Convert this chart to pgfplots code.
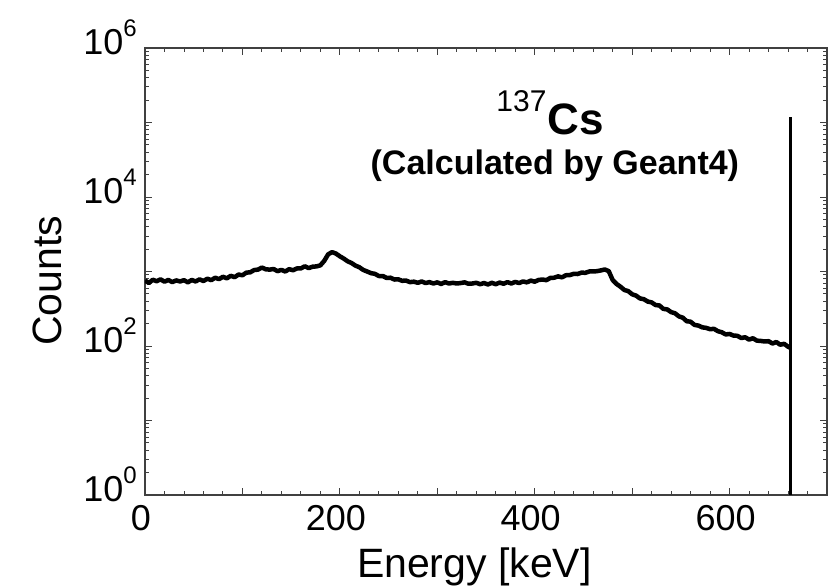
\documentclass[border=0pt]{standalone}
\usepackage{fontspec}
\setmainfont{Liberation Sans}
\usepackage{pgfplots}
\pgfplotsset{compat=1.18}
\newcommand{\tp}[1]{10\raisebox{18pt}{\fontsize{24}{24}\selectfont #1}}
\begin{document}
\begin{tikzpicture}
\begin{axis}[
  scale only axis,
  width=682pt, height=447pt,
  xmin=0, xmax=700,
  ymode=log, ymin=1, ymax=1e6,
  axis line style={black!75, line width=1.2pt},
  every tick/.style={black!75, line width=0.9pt},
  major tick length=7pt, minor tick length=4pt,
  tick align=inside,
  xtick={0,100,...,700},
  xticklabels={0,,200,,400,,600,},
  minor x tick num=4,
  ytick={1,10,100,1000,10000,100000,1000000},
  yticklabels={\tp{0},,\tp{2},,\tp{4},,\tp{6}},
  /pgf/number format/assume math mode=true,
  xticklabel style={font=\fontsize{36}{36}\selectfont, inner sep=0pt, anchor=north, yshift=-10pt, xshift=-4pt},
  yticklabel style={font=\fontsize{36}{36}\selectfont, inner sep=0pt, anchor=base east, xshift=-8pt, yshift=-7pt},
  xlabel={Energy [keV]},
  ylabel={Counts},
  xlabel style={font=\fontsize{41}{41}\selectfont, inner sep=0pt, at={(axis description cs:0.483,0)}, anchor=base, yshift=-83pt},
  ylabel style={font=\fontsize{41}{41}\selectfont, inner sep=0pt, at={(axis description cs:-0.1217,0.479)}, anchor=base, rotate=0},
  clip=true,
]
\addplot[black, line width=4.5pt, line join=round] table {
x y
0 760
4 700
8 775
12 740
16 785
20 730
24 770
28 720
32 760
36 735
40 765
44 715
48 770
52 735
56 785
60 745
64 800
68 765
72 825
76 790
80 850
84 810
88 875
92 840
96 910
100 890
104 965
108 975
112 1045
116 1060
120 1130
124 1070
128 1060
132 1080
136 1010
140 1050
144 1000
148 1075
152 1040
156 1100
160 1100
164 1175
168 1110
172 1160
176 1170
180 1210
184 1390
188 1700
192 1820
196 1740
200 1600
204 1490
208 1370
212 1300
216 1200
220 1140
224 1050
228 1000
232 950
236 930
240 870
244 870
248 820
252 825
256 780
260 785
264 750
268 755
272 720
276 730
280 705
284 735
288 700
292 720
296 690
300 715
304 680
308 720
312 690
316 705
320 690
324 700
328 715
332 685
336 690
340 705
344 675
348 700
352 670
356 705
360 675
364 710
368 685
372 720
376 690
380 725
384 700
388 735
392 715
396 755
400 730
404 770
408 780
412 765
416 820
420 825
424 860
428 835
432 890
436 895
440 930
444 925
448 965
452 960
456 1000
460 1000
464 1010
468 1035
472 1065
476 1010
480 770
484 680
488 625
492 565
496 545
500 495
504 475
508 435
512 425
516 395
520 385
524 355
528 350
532 315
536 310
540 285
544 275
548 250
552 240
556 215
560 212
564 192
568 188
572 178
576 175
580 168
584 170
588 158
592 153
596 143
600 145
604 138
608 137
612 128
616 131
620 122
624 127
628 118
632 117
636 115
640 116
644 108
648 113
652 104
656 107
660 98
662 95
};
\addplot[black, line width=3pt] coordinates {(662.5,0.1) (662.5,120000)};
\node[anchor=base, inner sep=0pt] at (axis description cs:0.594,0.807)
  {\raisebox{23pt}{\fontsize{30}{30}\selectfont 137}\hspace{1pt}{\fontsize{44}{44}\selectfont\bfseries Cs}};
\node[anchor=base, inner sep=0pt] at (axis description cs:0.601,0.718)
  {\fontsize{34}{34}\selectfont\bfseries (Calculated by Geant4)};
\end{axis}
\pgfresetboundingbox
\useasboundingbox (current axis.south west) ++(-145pt,-91pt) rectangle ++(828pt,586pt);
\end{tikzpicture}
\end{document}
